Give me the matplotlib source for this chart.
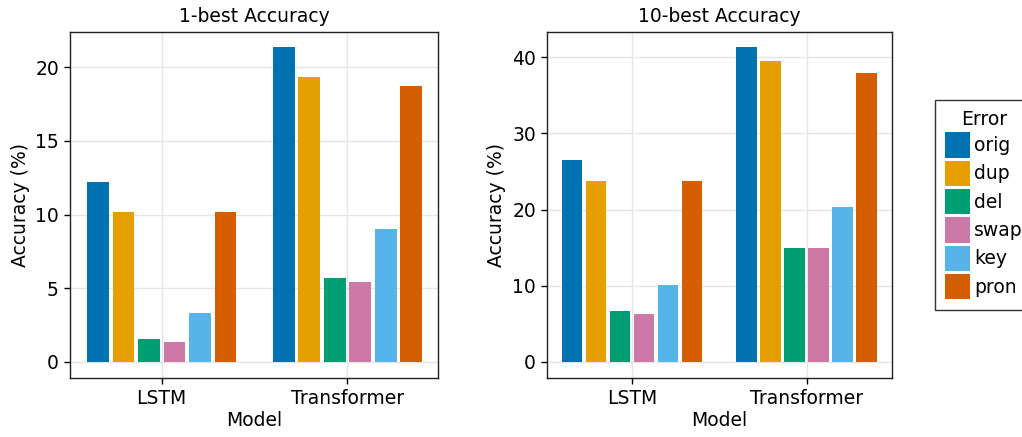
import numpy as np
import matplotlib
matplotlib.use('Agg')
import matplotlib.pyplot as plt

models = ['LSTM', 'Transformer']
errors = ['orig', 'dup', 'del', 'swap', 'key', 'pron']
colors = ['#0072B2', '#E69F00', '#009E73', '#CC79A7', '#56B4E9', '#D55E00']

# accuracy (%) per error type, [LSTM, Transformer]
best1 = {
    'orig': [12.2, 21.4],
    'dup': [10.2, 19.35],
    'del': [1.55, 5.7],
    'swap': [1.35, 5.43],
    'key': [3.33, 9.03],
    'pron': [10.2, 18.75],
}
best10 = {
    'orig': [26.5, 41.35],
    'dup': [23.75, 39.5],
    'del': [6.66, 14.95],
    'swap': [6.27, 14.95],
    'key': [10.08, 20.3],
    'pron': [23.75, 37.9],
}

fs = 13.5
plt.rcParams['font.family'] = 'DejaVu Sans'
plt.rcParams['font.size'] = fs

W, H = 1022, 437
fig = plt.figure(figsize=(W / 100, H / 100), dpi=100)
ax1 = fig.add_axes([70 / W, 1 - 378 / H, (438 - 70) / W, (378 - 32) / H])
ax2 = fig.add_axes([547 / W, 1 - 378 / H, (892 - 547) / W, (378 - 32) / H])

x = np.arange(1, len(models) + 1)
bw = 0.118
slot = (0.805 - bw) / (len(errors) - 1)


def draw(ax, data, title, xlim, ylim, yticks):
    for i, (err, col) in enumerate(zip(errors, colors)):
        offs = (i - (len(errors) - 1) / 2) * slot
        ax.bar(x + offs, data[err], width=bw, color=col, label=err, zorder=3)
    ax.set_xlim(*xlim)
    ax.set_ylim(*ylim)
    ax.set_xticks(x)
    ax.set_xticklabels(models)
    ax.set_yticks(yticks)
    ax.grid(True, color='#e6e6e6', linewidth=1, zorder=0)
    ax.tick_params(direction='out', length=4, width=1, pad=4, colors='black')
    for s in ax.spines.values():
        s.set_linewidth(1)
        s.set_color('#222222')
    ax.set_title(title, pad=7, fontsize=fs)
    ax.set_xlabel('Model', labelpad=2)
    ax.set_ylabel('Accuracy (%)', labelpad=4)


draw(ax1, best1, '1-best Accuracy', (0.506, 2.488), (-1.09, 22.4), [0, 5, 10, 15, 20])
draw(ax2, best10, '10-best Accuracy', (0.512, 2.49), (-2.1, 43.3), [0, 10, 20, 30, 40])

handles, labels = ax2.get_legend_handles_labels()
leg = fig.legend(handles, labels, title='Error', loc='upper left',
                 bbox_to_anchor=(935 / W, 1 - 100 / H), borderaxespad=0,
                 frameon=True, fancybox=False, edgecolor='black',
                 handlelength=1.3, handleheight=1.7, labelspacing=0.16,
                 handletextpad=0.25, borderpad=0.55, fontsize=fs,
                 title_fontsize=fs)
leg.get_frame().set_linewidth(1)

fig.savefig('out.png', dpi=100)
